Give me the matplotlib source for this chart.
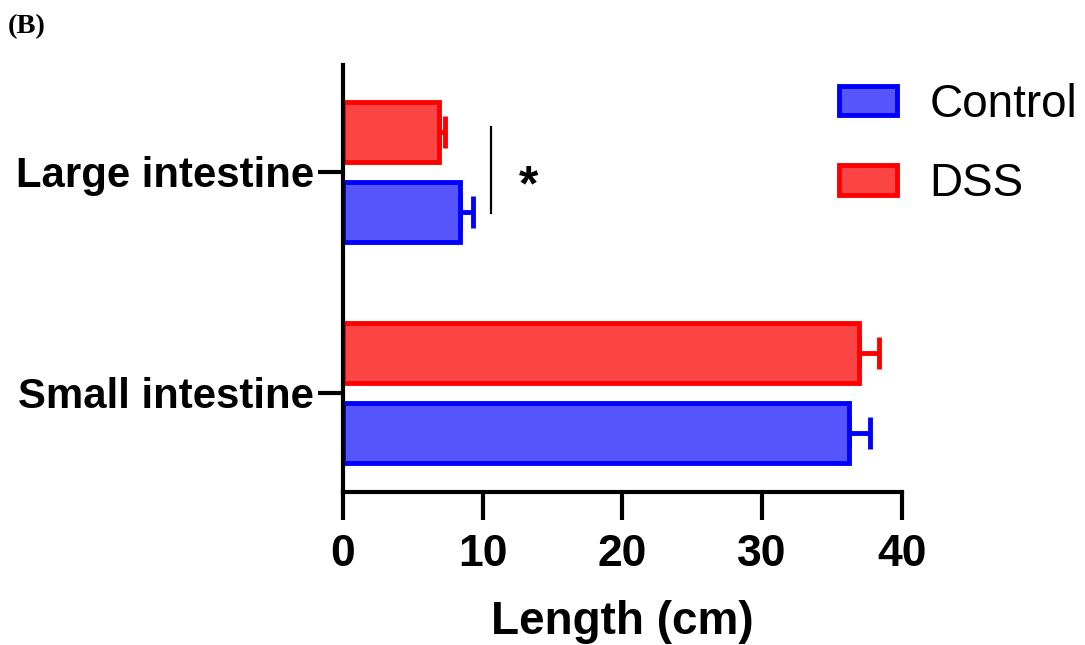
import numpy as np
import matplotlib
matplotlib.use("Agg")
import matplotlib.pyplot as plt
from matplotlib.patches import Patch

# intestine length, mean and SEM (cm)
categories = ["Small intestine", "Large intestine"]
control_mean = [36.2, 8.35]
control_sem = [1.5, 0.95]
dss_mean = [36.9, 6.85]
dss_sem = [1.45, 0.45]
sig_x = 10.6
sig_label = "*"

plt.rcParams['font.family'] = ['Liberation Sans', 'DejaVu Sans']

blue_face, blue_edge = "#5555fb", "#0000ff"
red_face, red_edge = "#fb4444", "#ff0000"

fig = plt.figure(figsize=(10.85, 6.45), dpi=100)
ax = fig.add_axes([0.316, 0.2372, 0.5152, 0.662])

y = np.arange(len(categories))
off = 0.181
h = 0.268

ax.barh(y - off, control_mean, height=h, color=blue_face, edgecolor=blue_edge, linewidth=3.5, zorder=2)
ax.barh(y + off, dss_mean, height=h, color=red_face, edgecolor=red_edge, linewidth=3.5, zorder=2)

# one-sided error bars (outward only)
ax.errorbar(control_mean, y - off, xerr=[np.zeros(len(y)), control_sem], fmt="none",
            ecolor=blue_edge, elinewidth=3.5, capsize=11.5, capthick=3.5, zorder=1)
ax.errorbar(dss_mean, y + off, xerr=[np.zeros(len(y)), dss_sem], fmt="none",
            ecolor=red_edge, elinewidth=3.5, capsize=11.5, capthick=3.5, zorder=1)

# significance between groups of the large intestine
ax.plot([sig_x, sig_x], [1 - 0.186, 1 + 0.205], color="black", lw=1.6)
ax.text(sig_x + 2.7, 0.93, sig_label, fontsize=36, fontweight="bold", ha="center", va="center")

ax.set_xlim(0, 40)
ax.set_ylim(-0.448, 1.484)
ax.set_xticks([0, 10, 20, 30, 40])
ax.set_yticks(y)
ax.set_yticklabels(categories)

for s in ["top", "right"]:
    ax.spines[s].set_visible(False)
for s in ["left", "bottom"]:
    ax.spines[s].set_linewidth(3)
ax.tick_params(axis="x", length=20, width=3, labelsize=32, pad=10)
ax.tick_params(axis="y", length=18, width=3, labelsize=30.2, pad=3)
for lab in ax.get_xticklabels() + ax.get_yticklabels():
    lab.set_fontweight("bold")

ax.set_xlabel("Length (cm)", fontsize=33, fontweight="bold", labelpad=18)

handles = [Patch(facecolor=blue_face, edgecolor=blue_edge, linewidth=3.5, label="Control"),
           Patch(facecolor=red_face, edgecolor=red_edge, linewidth=3.5, label="DSS")]
fig.legend(handles=handles, loc="upper left", bbox_to_anchor=(0.7735, 0.872), frameon=False,
           fontsize=33, handlelength=1.25, handleheight=0.62, handletextpad=0.72,
           labelspacing=0.78, borderpad=0, borderaxespad=0)

fig.text(0.007, 0.978, "(B)", fontsize=20.5, fontweight="bold",
         family=["Liberation Serif", "DejaVu Serif"], va="top", ha="left")

fig.savefig("out.png", dpi=100)
